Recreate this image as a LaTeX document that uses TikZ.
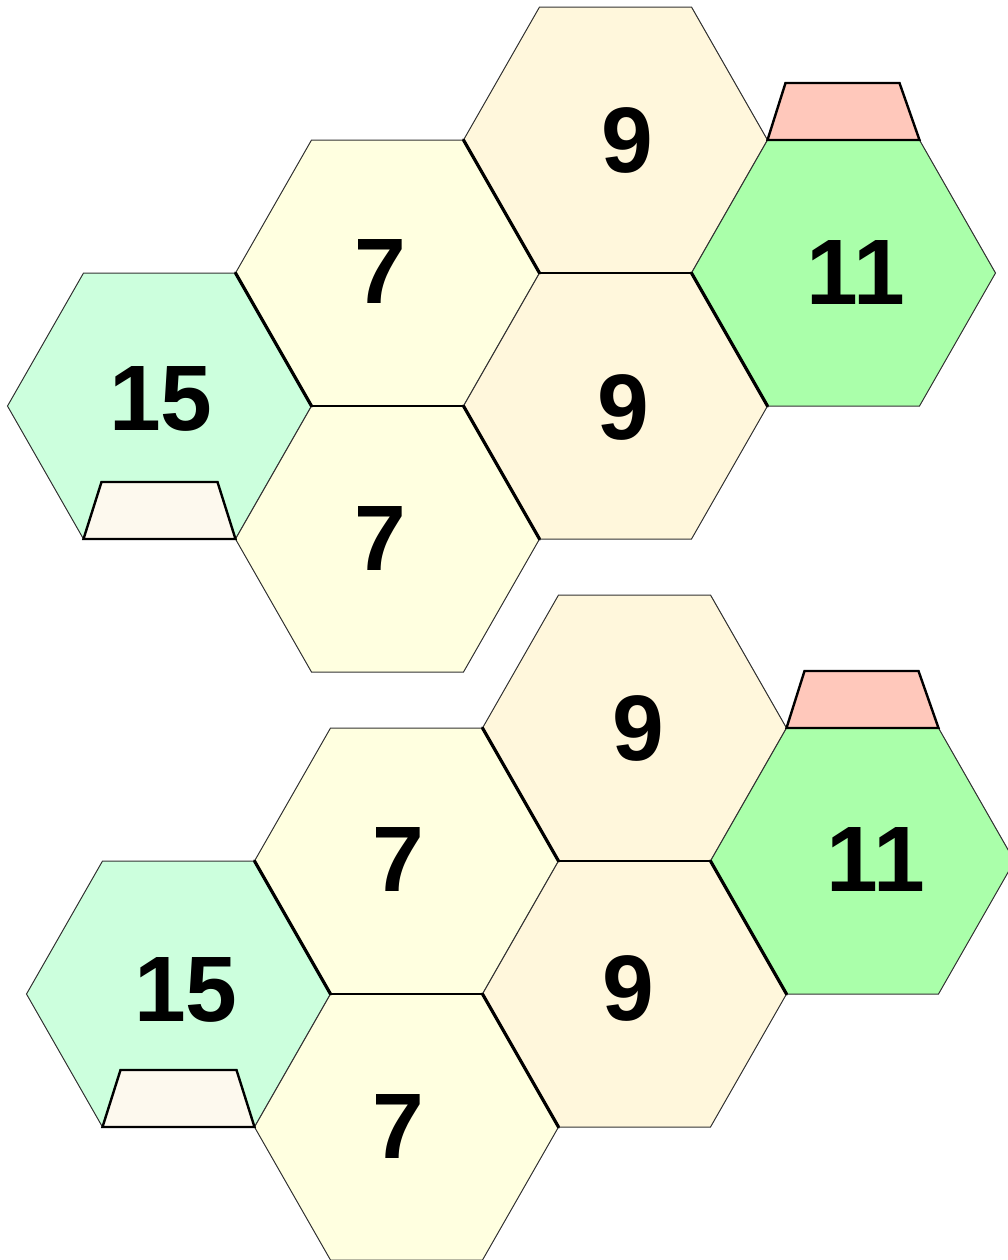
\documentclass[tikz,border=0pt]{standalone}
\usepackage{fontspec}
\setmainfont{Liberation Sans}
\definecolor{cfifteen}{RGB}{204,255,221}
\definecolor{cseven}{RGB}{255,255,224}
\definecolor{cnine}{RGB}{255,247,220}
\definecolor{celeven}{RGB}{170,255,170}
\definecolor{cred}{RGB}{255,200,187}
\definecolor{ccream}{RGB}{253,249,238}
\newcommand\hexcell[3]{\filldraw[hexline,fill=#3] ({#1-152},#2) -- ({#1-76},{#2-133}) -- ({#1+76},{#2-133}) -- ({#1+152},#2) -- ({#1+76},{#2+133}) -- ({#1-76},{#2+133}) -- cycle;}
\tikzset{
  hexline/.style={draw=black!80, line width=0.5pt, line join=miter},
  sharededge/.style={draw=black, line width=0.8pt},
  foldedge/.style={draw=black, line width=1.6pt, line cap=round},
  tabshape/.style={draw=black, line width=1.2pt, line join=miter},
  num/.style={font=\bfseries\fontsize{46.5}{50}\selectfont, inner sep=0pt, text=black}
}
\begin{document}
\begin{tikzpicture}[x=0.5pt,y=-0.5pt]
\useasboundingbox (0,0) rectangle (1008,1260);
\clip (0,0) rectangle (1008,1260);
\foreach \dx/\dy in {0/0,19/588}{
\begin{scope}[shift={(\dx,\dy)}]
  \hexcell{159.5}{406}{cfifteen}
  \hexcell{387.5}{273}{cseven}
  \hexcell{387.5}{539}{cseven}
  \hexcell{615.5}{140}{cnine}
  \hexcell{615.5}{406}{cnine}
  \hexcell{843.5}{273}{celeven}
  % shared horizontal edges
  \draw[sharededge] (311.5,406) -- (463.5,406);
  \draw[sharededge] (539.5,273) -- (691.5,273);
  % fold edges
  \draw[foldedge] (235.5,273) -- (311.5,406);
  \draw[foldedge] (463.5,140) -- (539.5,273);
  \draw[foldedge] (463.5,406) -- (539.5,539);
  \draw[foldedge] (691.5,273) -- (767.5,406);
  % tabs
  \filldraw[tabshape,fill=cred] (767.5,140) -- (785.5,83) -- (899.5,83) -- (919.5,140) -- cycle;
  \filldraw[tabshape,fill=ccream] (83.5,539) -- (101.5,482) -- (217.5,482) -- (235.5,539) -- cycle;
\end{scope}
}
% labels, first copy
\node[num] (a15) at (161,399) {15};
\node[num] (a7u) at (380,271) {7};
\node[num] (a7l) at (380,538) {7};
\node[num] (a9u) at (627,140) {9};
\node[num] (a9l) at (623,407) {9};
\node[num] (a11) at (856,272) {11};
% labels, second copy
\node[num] (b15) at (186,990) {15};
\node[num] (b7u) at (398,859.5) {7};
\node[num] (b7l) at (398,1126) {7};
\node[num] (b9u) at (638.5,728) {9};
\node[num] (b9l) at (628.5,988) {9};
\node[num] (b11) at (876,859.5) {11};
\end{tikzpicture}
\end{document}
